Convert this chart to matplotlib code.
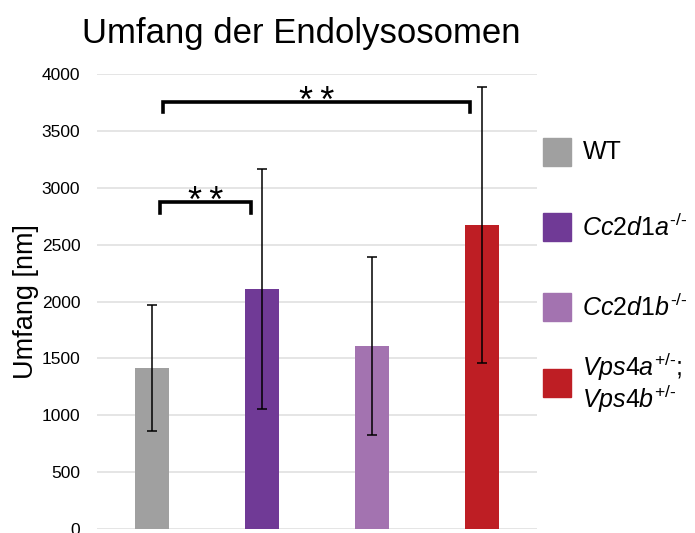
import numpy as np
import matplotlib.pyplot as plt
from matplotlib.patches import Rectangle

plt.rcParams['font.family'] = ['Liberation Sans', 'DejaVu Sans']
plt.rcParams['mathtext.fontset'] = 'custom'
plt.rcParams['mathtext.rm'] = 'Liberation Sans'
plt.rcParams['mathtext.it'] = 'Liberation Sans:italic'

# data
groups = ['WT', 'Cc2d1a', 'Cc2d1b', 'Vps4a/Vps4b']
means = [1415, 2110, 1610, 2675]
errors = [555, 1055, 785, 1215]
colors = ['#A0A0A0', '#703A96', '#A373B0', '#BE1E24']
legend_labels = ['WT',
                 '$\\mathit{Cc2d1a}^{\\mathit{\u2010/\u2010}}$',
                 '$\\mathit{Cc2d1b}^{\\mathit{\u2010/\u2010}}$',
                 '$\\mathit{Vps4a}^{\\mathit{+/\u2010}}\\mathit{;}$\n'
                 '$\\mathit{Vps4b}^{\\mathit{+/\u2010}}$']
yticks = [0, 500, 1000, 1500, 2000, 2500, 3000, 3500, 4000]

fig = plt.figure(figsize=(6.95, 5.33), dpi=100)
ax = fig.add_axes([0.1396, 0.0075, 0.6331, 0.8536])

x = np.arange(len(groups))
ax.bar(x, means, width=0.31, color=colors, zorder=2)
ax.errorbar(x, means, yerr=errors, fmt='none', ecolor='black',
            elinewidth=1.1, capsize=3.3, capthick=1.1, zorder=3)

ax.set_xlim(-0.5, 3.5)
ax.set_ylim(0, 4000)
ax.set_yticks(yticks)
ax.tick_params(axis='y', length=0, labelsize=12.5, pad=12)
ax.set_xticks([])
ax.grid(axis='y', color='#E3E3E3', linewidth=1.3, zorder=0)
ax.set_axisbelow(True)
for s in ax.spines.values():
    s.set_visible(False)
ax.set_ylabel('Umfang [nm]', fontsize=19.5, labelpad=2)

# significance brackets
def bracket(x0, x1, ytop, ybot, label):
    ax.plot([x0, x0, x1, x1], [ybot, ytop, ytop, ybot], color='black',
            linewidth=2.6, solid_joinstyle='miter', zorder=4, clip_on=False)
    ax.text((x0 + x1) / 2, ytop - 90, label, ha='center', va='baseline',
            fontsize=26, zorder=4)

bracket(0.07, 0.90, 2875, 2780, '*\u2009*')
bracket(0.10, 2.89, 3755, 3665, '*\u2009*')

fig.text(0.433, 0.938, 'Umfang der Endolysosomen', ha='center', va='center',
         fontsize=25)

# legend drawn by hand
leg_y = [0.715, 0.574, 0.424, 0.281]
for c, lab, yy in zip(colors, legend_labels, leg_y):
    fig.add_artist(Rectangle((0.781, yy - 0.026), 0.040, 0.052,
                             transform=fig.transFigure, color=c))
    fig.text(0.838, yy, lab, ha='left', va='center', fontsize=18,
             linespacing=1.0)

fig.savefig('out.png', dpi=100)
